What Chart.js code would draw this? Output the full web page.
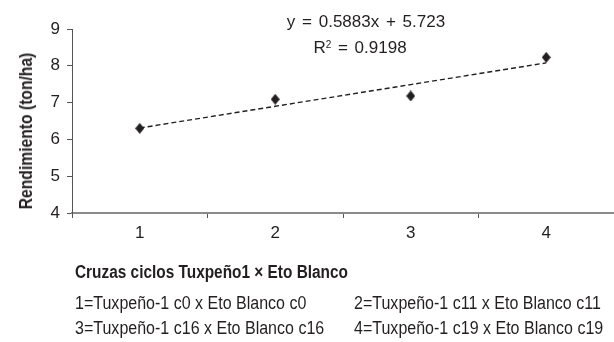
<!DOCTYPE html>
<html lang="es">

<head>
    <meta charset="UTF-8">
    <title>Rendimiento por cruza</title>
    <script src="https://cdn.jsdelivr.net/npm/chart.js"></script>
    <style>
        body { margin: 0; background: #fff; }
        #wrap { position: relative; width: 614px; height: 342px; overflow: hidden; }
        #wrap canvas { position: absolute; left: 0; top: 0; }
        .txt {
            position: absolute; white-space: nowrap; color: #231f20;
            font-family: 'Liberation Sans', Arial, sans-serif;
            font-size: 18px; line-height: 1;
        }
        .eq { font-size: 17px; word-spacing: 2px; transform: translate(-50%, -50%); }
        .l { transform-origin: 0 50%; transform: translateY(-50%) scaleX(0.89); }
        .b { font-weight: bold; transform: translateY(-50%) scaleX(0.855); }
        .yt {
            font-weight: bold; left: 26px; top: 131px;
            transform: translate(-50%, -50%) rotate(-90deg) scaleX(0.87);
        }
    </style>
    <script>
        // valores
        const cruzas = ['1', '2', '3', '4'];
        const rendimiento = [6.30, 7.09, 7.18, 8.23];
        const tendencia = [6.31, 6.90, 7.49, 8.08];   // y = 0.5883x + 5.723
        const yMin = 4;
        const yMax = 9;

        const fam = "'Liberation Sans', Arial, sans-serif";
        const negro = '#231f20';

        // rombo un poco más alto que ancho, como en la figura
        function rombo() {
            const c = document.createElement('canvas');
            c.width = 9;
            c.height = 11;
            const g = c.getContext('2d');
            g.fillStyle = negro;
            g.beginPath();
            g.moveTo(4.5, 0);
            g.lineTo(9, 5.5);
            g.lineTo(4.5, 11);
            g.lineTo(0, 5.5);
            g.closePath();
            g.fill();
            return c;
        }

        function createChart() {
            const ctx = document.getElementById('myChart').getContext('2d');
            new Chart(ctx, {
                type: 'line',
                data: {
                    labels: cruzas,
                    datasets: [{
                        label: 'Rendimiento',
                        data: rendimiento,
                        showLine: false,
                        pointStyle: rombo(),
                        pointRadius: 5,
                        backgroundColor: negro,
                        borderColor: negro
                    }, {
                        label: 'Lineal',
                        data: tendencia,
                        borderColor: negro,
                        borderWidth: 1.4,
                        borderDash: [5, 3],
                        pointRadius: 0,
                        fill: false,
                        tension: 0
                    }]
                },
                options: {
                    responsive: false,
                    animation: false,
                    layout: { padding: { top: 29, right: 4, left: 0, bottom: 0 } },
                    plugins: { legend: { display: false }, tooltip: { enabled: false } },
                    scales: {
                        x: {
                            type: 'category',
                            offset: true,
                            grid: { offset: true, drawOnChartArea: false, tickLength: 5, color: '#555' },
                            border: { color: '#8a8a8a', width: 2 },
                            ticks: { color: negro, font: { family: fam, size: 17 }, padding: 5 },
                            afterFit: s => { s.height = 129; }
                        },
                        y: {
                            min: yMin,
                            max: yMax,
                            ticks: { stepSize: 1, color: negro, font: { family: fam, size: 17 }, padding: 7 },
                            grid: { drawOnChartArea: false, tickLength: 5, color: '#555' },
                            border: { color: '#555', width: 1 },
                            afterFit: s => { s.width = 72; }
                        }
                    }
                }
            });
        }

        document.addEventListener('DOMContentLoaded', createChart);
    </script>
</head>

<body>
    <div id="wrap">
        <canvas id="myChart" width="620" height="342"></canvas>
        <div class="txt yt">Rendimiento (ton/ha)</div>
        <div class="txt eq" style="left:366px; top:21px;">y = 0.5883x + 5.723</div>
        <div class="txt eq" style="left:360px; top:47px;">R<sup style="font-size:10px; vertical-align:5px">2</sup> = 0.9198</div>
        <div class="txt l b" style="left:75px; top:272px;">Cruzas ciclos Tuxpeño1 × Eto Blanco</div>
        <div class="txt l" style="left:75px; top:303px;">1=Tuxpeño-1 c0 x Eto Blanco c0</div>
        <div class="txt l" style="left:354px; top:303px;">2=Tuxpeño-1 c11 x Eto Blanco c11</div>
        <div class="txt l" style="left:75px; top:328px;">3=Tuxpeño-1 c16 x Eto Blanco c16</div>
        <div class="txt l" style="left:354px; top:328px;">4=Tuxpeño-1 c19 x Eto Blanco c19</div>
    </div>
</body>

</html>
